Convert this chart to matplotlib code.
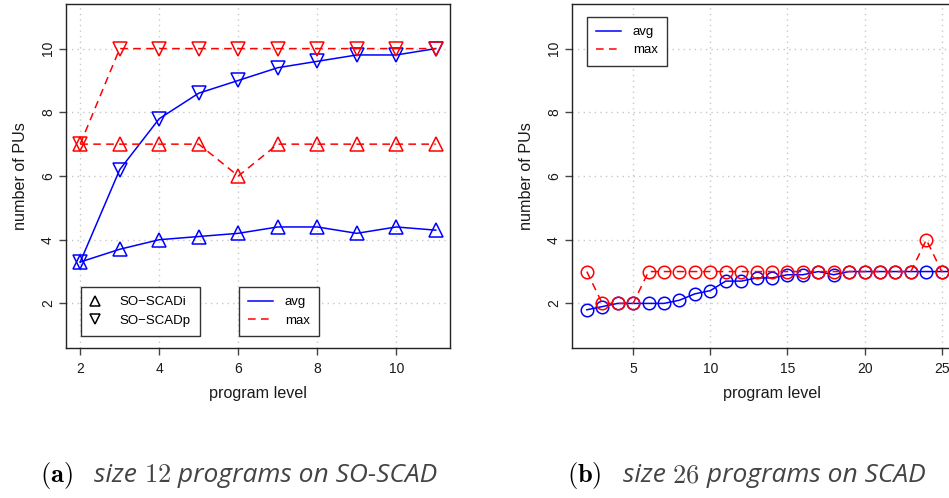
import matplotlib
matplotlib.use("Agg")
import matplotlib.pyplot as plt
from matplotlib.lines import Line2D

plt.rcParams['font.family'] = ['Liberation Sans', 'DejaVu Sans']
plt.rcParams['mathtext.fontset'] = 'cm'

# ---- data: panel (a) ----
levels_a = [2, 3, 4, 5, 6, 7, 8, 9, 10, 11]
scadi_avg = [3.3, 3.7, 4.0, 4.1, 4.2, 4.4, 4.4, 4.2, 4.4, 4.3]
scadi_max = [7, 7, 7, 7, 6, 7, 7, 7, 7, 7]
scadp_avg = [3.3, 6.2, 7.8, 8.6, 9.0, 9.4, 9.6, 9.8, 9.8, 10.0]
scadp_max = [7, 10, 10, 10, 10, 10, 10, 10, 10, 10]

# ---- data: panel (b) ----
levels_b = list(range(2, 27))
scad_avg = [1.8, 1.9, 2.0, 2.0, 2.0, 2.0, 2.1, 2.3, 2.4, 2.7, 2.7, 2.8, 2.8,
            2.9, 2.9, 3.0, 2.9, 3.0, 3.0, 3.0, 3.0, 3.0, 3.0, 3.0, 3.0]
scad_max = [3, 2, 2, 2, 3, 3, 3, 3, 3, 3, 3, 3, 3,
            3, 3, 3, 3, 3, 3, 3, 3, 3, 4, 3, 3]

xticks_a = [2, 4, 6, 8, 10]
xticks_b = [5, 10, 15, 20, 25]
yticks = [2, 4, 6, 8, 10]

W, H = 949, 498
fig = plt.figure(figsize=(W / 100, H / 100), dpi=100)

BLUE = '#0000ff'
RED = '#ff0000'
DASH = (5, 3.5)
LW = 1.1
TXT = '#1a1a1a'


def style(ax, xticks, xlim):
    ax.set_xlim(*xlim)
    ax.set_ylim(0.6, 11.4)
    ax.set_xticks(xticks)
    ax.set_yticks(yticks)
    ax.grid(True, color='#c8c8c8', linestyle=(0, (1, 3)), linewidth=1.0)
    ax.set_axisbelow(True)
    for s in ax.spines.values():
        s.set_linewidth(1.0)
        s.set_color('#222222')
    ax.tick_params(axis='both', direction='out', length=5, width=1.0,
                   color='#444444', labelsize=10, labelcolor=TXT)
    ax.tick_params(axis='x', pad=5)
    ax.tick_params(axis='y', pad=3)
    for lab in ax.get_yticklabels():
        lab.set_rotation(90)
        lab.set_va('center')
    ax.set_xlabel('program level', fontsize=11.6, color=TXT, labelpad=7)
    ax.set_ylabel('number of PUs', fontsize=11.6, color=TXT, labelpad=9)


legkw = dict(loc='upper left', frameon=True, fancybox=False, edgecolor='#333333',
             framealpha=1, fontsize=9.5, borderaxespad=0, labelspacing=0.45,
             borderpad=0.7)

# ---- panel (a) ----
axa = fig.add_axes([66 / W, 1 - 348 / H, 384 / W, 344 / H])
style(axa, xticks_a, (1.64, 11.36))
mk = dict(markersize=10, markerfacecolor='none', markeredgewidth=1.1)
axa.plot(levels_a, scadi_avg, color=BLUE, lw=LW, marker='^', markeredgecolor=BLUE, **mk)
axa.plot(levels_a, scadp_avg, color=BLUE, lw=LW, marker='v', markeredgecolor=BLUE, **mk)
axa.plot(levels_a, scadi_max, color=RED, lw=LW, dashes=DASH, marker='^', markeredgecolor=RED, **mk)
axa.plot(levels_a, scadp_max, color=RED, lw=LW, dashes=DASH, marker='v', markeredgecolor=RED, **mk)

h1 = [Line2D([], [], ls='none', marker='^', color='black', markerfacecolor='none',
             markersize=6.5, markeredgewidth=1.1),
      Line2D([], [], ls='none', marker='v', color='black', markerfacecolor='none',
             markersize=6.5, markeredgewidth=1.1)]
leg1 = axa.legend(h1, ['SO\u2212SCADi', 'SO\u2212SCADp'],
                  bbox_to_anchor=((80.7 - 66) / 384, (348 - 287) / 344),
                  handlelength=0.8, handletextpad=1.45, **legkw)
leg1.get_frame().set_linewidth(1.0)
axa.add_artist(leg1)
h2 = [Line2D([], [], color=BLUE, lw=LW),
      Line2D([], [], color=RED, lw=LW, dashes=DASH)]
leg2 = axa.legend(h2, ['avg', 'max'],
                  bbox_to_anchor=((238.7 - 66) / 384, (348 - 287) / 344),
                  handlelength=1.9, handletextpad=0.9, **legkw)
leg2.get_frame().set_linewidth(1.0)

# ---- panel (b) ----
axb = fig.add_axes([572 / W, 1 - 348 / H, 400 / W, 344 / H])
style(axb, xticks_b, (1.04, 26.96))
mkc = dict(markersize=9, markerfacecolor='none', markeredgewidth=1.1, marker='o')
axb.plot(levels_b, scad_avg, color=BLUE, lw=LW, markeredgecolor=BLUE, **mkc)
axb.plot(levels_b, scad_max, color=RED, lw=LW, dashes=DASH, markeredgecolor=RED, **mkc)
legb = axb.legend(h2, ['avg', 'max'],
                  bbox_to_anchor=((586.7 - 572) / 400, (348 - 16.7) / 344),
                  handlelength=1.9, handletextpad=0.9, **legkw)
legb.get_frame().set_linewidth(1.0)

# ---- captions ----
cap_y = 1 - 482 / H
fig.canvas.draw()
renderer = fig.canvas.get_renderer()
CAPFS = 19


def caption(x0_px, letter, num, rest):
    ital = dict(style='italic', family=['Open Sans', 'DejaVu Sans'], color='#444444')
    parts = [(r'$\mathbf{(' + letter + r')}$', dict(color='black'), 21),
             ('size ', ital, 0),
             (r'$' + num + r'$', dict(color='#444444'), 0),
             (' ' + rest, ital, 0)]
    x = x0_px
    for s, kw, gap in parts:
        t = fig.text(x / W, cap_y, s, fontsize=CAPFS, va='baseline', ha='left', **kw)
        bb = t.get_window_extent(renderer)
        x += bb.width + gap


caption(40.5, 'a', '12', 'programs on SO-SCAD')
caption(567, 'b', '26', 'programs on SCAD')

fig.savefig('out.png', dpi=100)
